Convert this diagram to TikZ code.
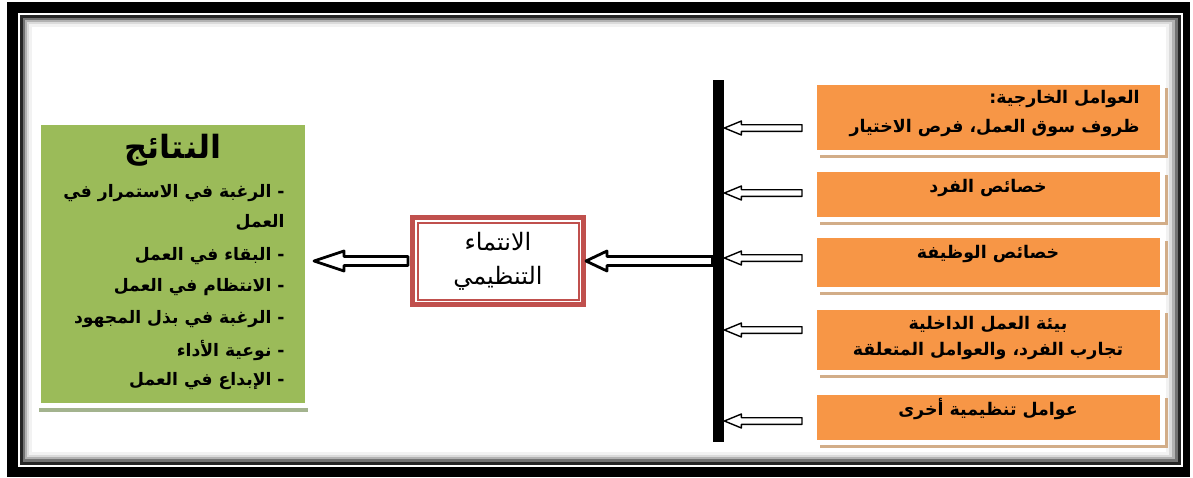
\documentclass[tikz,border=0pt]{standalone}
\usepackage{fontspec}
\usepackage{tikz}
\usetikzlibrary{calc,shadows}
\TeXXeTstate=1
\newfontfamily\arabicfont[Script=Arabic]{DejaVu Sans}

\definecolor{factorfill}{HTML}{F79646}
\definecolor{factorshadow}{HTML}{D2AD88}
\definecolor{resultfill}{HTML}{9BBB59}
\definecolor{resultshadow}{HTML}{A3B38E}
\definecolor{coreline}{HTML}{C0504D}

% hollow block arrow: [opts]{from}{tip}{shaft half}{head half}{head length}
\newcommand{\hollowarrow}[6][]{%
  \draw[#1, fill=white, line join=round] ($(#2)+(0,#4)$) -- ($(#3)+(#6,#4)$) -- ($(#3)+(#6,#5)$) -- (#3)
    -- ($(#3)+(#6,-#5)$) -- ($(#3)+(#6,-#4)$) -- ($(#2)+(0,-#4)$) -- cycle;}

\begin{document}
\begin{tikzpicture}[x=0.5pt,y=-0.5pt]
% Define styles
\tikzstyle{factor} = [rectangle, fill=factorfill, draw=white, line width=2.5pt, minimum width=174pt, inner sep=0pt, drop shadow={shadow xshift=2.5pt, shadow yshift=-2.5pt, fill=factorshadow, opacity=1}]
\tikzstyle{result} = [rectangle, fill=resultfill, draw=white, line width=2.5pt, minimum width=134.5pt, minimum height=141.5pt, inner sep=0pt, drop shadow={shadow xshift=0pt, shadow yshift=-3pt, fill=resultshadow, opacity=1}]
\tikzstyle{core} = [rectangle, draw=coreline, line width=2.5pt, fill=white, minimum width=85.5pt, minimum height=43.5pt, inner sep=0pt, align=center, font=\arabicfont\fontsize{12}{17}\selectfont]
\tikzstyle{factortext} = [font=\arabicfont\bfseries\fontsize{8.7}{11}\selectfont, inner sep=0pt]
\tikzstyle{resulttext} = [font=\arabicfont\bfseries\fontsize{8.6}{11}\selectfont, inner sep=0pt, anchor=east]

\useasboundingbox (0,0) rectangle (1193,477);

% Frame
\fill[black] (7,2) rectangle (1190,477);
\fill[white] (18,13) rectangle (1183,467);
\fill[black!85] (20,15) rectangle (1181,465);
\fill[black!55] (23,18) rectangle (1178,462);
\fill[black!30] (25,20) rectangle (1175,459);
\fill[black!14] (27,22) rectangle (1172,457);
\fill[black!5] (29,24) rectangle (1169,455);
\fill[white] (32,27) rectangle (1166,452);

% Draw nodes
\node (bar) [fill=black, minimum width=5.5pt, minimum height=181pt, inner sep=0pt] at (718.5,261) {};

\node (f1) [factor, minimum height=35pt] at (988.5,117.5) {};
\node (f2) [factor, minimum height=25pt] at (988.5,194.5) {};
\node (f3) [factor, minimum height=27pt] at (988.5,262.5) {};
\node (f4) [factor, minimum height=32.5pt] at (988.5,340) {};
\node (f5) [factor, minimum height=25pt] at (988.5,417.5) {};

\node (f1a) [factortext, anchor=east] at (1140,99) {\beginR العوامل الخارجية:\endR};
\node (f1b) [factortext, anchor=east] at (1140,128) {\beginR ظروف سوق العمل، فرص الاختيار\endR};
\node (f2a) [factortext] at (988,188) {\beginR خصائص الفرد\endR};
\node (f3a) [factortext] at (988,254) {\beginR خصائص الوظيفة\endR};
\node (f4a) [factortext] at (988,324) {\beginR بيئة العمل الداخلية\endR};
\node (f4b) [factortext] at (988,351) {\beginR تجارب الفرد، والعوامل المتعلقة\endR};
\node (f5a) [factortext] at (988,409) {\beginR عوامل تنظيمية أخرى\endR};

\node (core) [core] at (498,261) {\beginR الانتماء\endR\\\beginR التنظيمي\endR};
\draw[coreline, line width=1pt] ($(core.north west)+(7.5,7.5)$) rectangle ($(core.south east)+(-7.5,-7.5)$);

\node (results) [result] at (173,264) {};
\node (title) [font=\arabicfont\bfseries\fontsize{16}{18}\selectfont, inner sep=0pt] at (173,150) {\beginR النتائج\endR};
\node (r1) [resulttext] at (285,193) {\beginR - الرغبة في الاستمرار في\endR};
\node (r1b) [resulttext] at (285,223) {\beginR العمل\endR};
\node (r2) [resulttext] at (285,256) {\beginR - البقاء في العمل\endR};
\node (r3) [resulttext] at (285,287) {\beginR - الانتظام في العمل\endR};
\node (r4) [resulttext] at (285,319) {\beginR - الرغبة في بذل المجهود\endR};
\node (r5) [resulttext] at (285,350) {\beginR - نوعية الأداء\endR};
\node (r6) [resulttext] at (285,381) {\beginR - الإبداع في العمل\endR};

% Draw arrows
\coordinate (a1) at (802,128);
\coordinate (a2) at (802,193);
\coordinate (a3) at (802,258);
\coordinate (a4) at (802,330);
\coordinate (a5) at (802,421);
\coordinate (t1) at (bar.east |- a1);
\coordinate (t2) at (bar.east |- a2);
\coordinate (t3) at (bar.east |- a3);
\coordinate (t4) at (bar.east |- a4);
\coordinate (t5) at (bar.east |- a5);
\hollowarrow[line width=0.7pt]{a1}{t1}{3.3}{7}{17}
\hollowarrow[line width=0.7pt]{a2}{t2}{3.3}{7}{17}
\hollowarrow[line width=0.7pt]{a3}{t3}{3.3}{7}{17}
\hollowarrow[line width=0.7pt]{a4}{t4}{3.3}{7}{17}
\hollowarrow[line width=0.7pt]{a5}{t5}{3.3}{7}{17}

\coordinate (coreout) at ($(core.west)+(-2,0)$);
\coordinate (restip) at ($(results.east |- core.west)+(4,0)$);
\hollowarrow[line width=1.4pt]{bar.west}{core.east}{4.5}{10}{21}
\hollowarrow[line width=1.4pt]{coreout}{restip}{4.5}{10}{30}

\end{tikzpicture}
\end{document}
